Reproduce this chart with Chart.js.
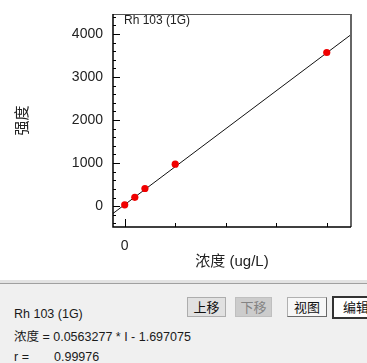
<!DOCTYPE html>
<html>
<head>
<meta charset="utf-8">
<script src="https://cdn.jsdelivr.net/npm/chart.js@4"></script>
<style>
  body { margin: 0; background: #fff; font-family: "Liberation Sans", "Noto Sans CJK SC", sans-serif; }
  #wrap { position: relative; width: 367px; height: 363px; overflow: hidden; }
  #chart { position: absolute; left: 0; top: 0; }
  .line1 { position: absolute; left: 0; top: 280px; width: 367px; height: 3px; background: #e3e3e3; }
  .line2 { position: absolute; left: 0; top: 283px; width: 367px; height: 1px; background: #a0a0a0; }
  #panel { position: absolute; left: 0; top: 284px; width: 367px; height: 79px; background: #f0f0f0; }
  .txt { position: absolute; font-size: 12.5px; line-height: 14px; color: #1a1a1a; white-space: nowrap; }
  .btn { position: absolute; top: 13px; height: 18px; font-size: 13px; line-height: 18px; text-align: center;
         font-family: "Noto Sans CJK SC", sans-serif; color: #111; box-sizing: content-box; }
</style>
</head>
<body>
<div id="wrap">
  <canvas id="chart" width="367" height="281"></canvas>
  <div class="line1"></div>
  <div class="line2"></div>
  <div id="panel">
    <div class="txt" style="left:14px; top:23px;">Rh 103 (1G)</div>
    <div class="txt" style="left:14px; top:46px;">浓度 = 0.0563277 * I - 1.697075</div>
    <div class="txt" style="left:14px; top:66px;">r =</div>
    <div class="txt" style="left:54px; top:66px;">0.99976</div>
    <div class="btn" style="left:187px; width:37px; background:#e1e1e1; border:1px solid #adadad;">上移</div>
    <div class="btn" style="left:235px; width:35px; background:#cccccc; border:1px solid #bfbfbf; color:#838383;">下移</div>
    <div class="btn" style="left:287px; width:38px; background:#f7f7f7; border:1px solid #b0b0b0; border-right-color:#696969; border-bottom-color:#696969;">视图</div>
    <div class="btn" style="left:332px; width:44px; top:12px; height:19px; background:#fff; border:2px solid #333;">编辑</div>
  </div>
</div>
<script>
// calibration standards (ug/L) and measured intensity
const concentrations = [0, 10, 20, 50, 200]
const intensities = [30, 205, 410, 975, 3570]

// fitted line, read at the left and right edge of the plot
const fitX = [-11.6, 224]
const fitY = [-170, 3985]

const yTicks = [0, 1000, 2000, 3000, 4000]
const xTicks = [0]
const xTickMarks = [0, 50, 100, 150, 200]

const title = 'Rh 103 (1G)'
const FONT = '"Liberation Sans", "Noto Sans CJK SC", sans-serif'
const TEXT = '#222'

// inward tick marks, plot frame and the element label
const framePlugin = {
  id: 'frame',
  afterDraw(chart) {
    const { ctx, chartArea: a, scales: { x, y } } = chart
    ctx.save()
    ctx.strokeStyle = '#000'
    ctx.lineWidth = 1
    for (let v = -400; v <= 4400; v += 200) {
      const py = Math.round(y.getPixelForValue(v)) + 0.5
      const len = v % 1000 === 0 ? 7 : 3
      ctx.beginPath()
      ctx.moveTo(a.left, py)
      ctx.lineTo(a.left + len, py)
      ctx.stroke()
    }
    xTickMarks.forEach(v => {
      const px = Math.round(x.getPixelForValue(v)) + 0.5
      const len = v === 0 ? 8 : 4
      ctx.beginPath()
      ctx.moveTo(px, a.bottom)
      ctx.lineTo(px, a.bottom - len)
      ctx.stroke()
    })

    ctx.strokeStyle = '#555'
    ctx.beginPath()
    ctx.moveTo(a.left, a.top + 0.5)
    ctx.lineTo(a.right, a.top + 0.5)
    ctx.stroke()
    ctx.strokeStyle = '#666'
    ctx.lineWidth = 2
    ctx.beginPath()
    ctx.moveTo(a.right, a.top)
    ctx.lineTo(a.right, a.bottom)
    ctx.stroke()
    ctx.strokeStyle = '#000'
    ctx.lineWidth = 1.5
    ctx.beginPath()
    ctx.moveTo(a.left, a.top)
    ctx.lineTo(a.left, a.bottom)
    ctx.lineTo(a.right, a.bottom)
    ctx.stroke()

    ctx.fillStyle = TEXT
    ctx.font = '12px ' + FONT
    ctx.textBaseline = 'middle'
    ctx.fillText(title, a.left + 11, a.top + 7)
    ctx.restore()
  }
}

new Chart(document.getElementById('chart').getContext('2d'), {
  type: 'scatter',
  data: {
    datasets: [{
      label: 'fit',
      data: fitX.map((v, i) => ({ x: v, y: fitY[i] })),
      showLine: true,
      borderColor: '#111',
      borderWidth: 1,
      pointRadius: 0,
      order: 2
    }, {
      label: title,
      data: concentrations.map((c, i) => ({ x: c, y: intensities[i] })),
      backgroundColor: '#f00000',
      borderColor: '#f00000',
      pointRadius: 3.6,
      pointBorderWidth: 0,
      order: 1
    }]
  },
  options: {
    responsive: false,
    animation: false,
    devicePixelRatio: 1,
    layout: { padding: { left: 0, top: 14, right: 16, bottom: 0 } },
    plugins: { legend: { display: false }, tooltip: { enabled: false } },
    scales: {
      x: {
        type: 'linear',
        min: -11.6,
        max: 224,
        grid: { display: false, drawTicks: false },
        border: { display: false },
        afterBuildTicks: s => { s.ticks = xTicks.map(v => ({ value: v })) },
        afterFit: s => { s.height = 54; s.paddingLeft = 0; s.paddingRight = 0 },
        ticks: { padding: 11, color: TEXT, font: { family: FONT, size: 14 }, callback: v => String(v) },
        title: { display: true, text: '浓度 (ug/L)', color: TEXT, padding: { top: 0, bottom: 10 }, font: { family: FONT, size: 15 } }
      },
      y: {
        type: 'linear',
        min: -485,
        max: 4465,
        grid: { display: false, drawTicks: false },
        border: { display: false },
        afterBuildTicks: s => { s.ticks = yTicks.map(v => ({ value: v })) },
        afterFit: s => { s.width = 113; s.paddingTop = 0; s.paddingBottom = 0 },
        ticks: { padding: 10, color: TEXT, font: { family: FONT, size: 14 }, callback: v => String(v) },
        title: { display: true, text: '强度', color: TEXT, padding: { top: 14, bottom: 0 }, font: { family: FONT, size: 15 } }
      }
    }
  },
  plugins: [framePlugin]
})
</script>
</body>
</html>
